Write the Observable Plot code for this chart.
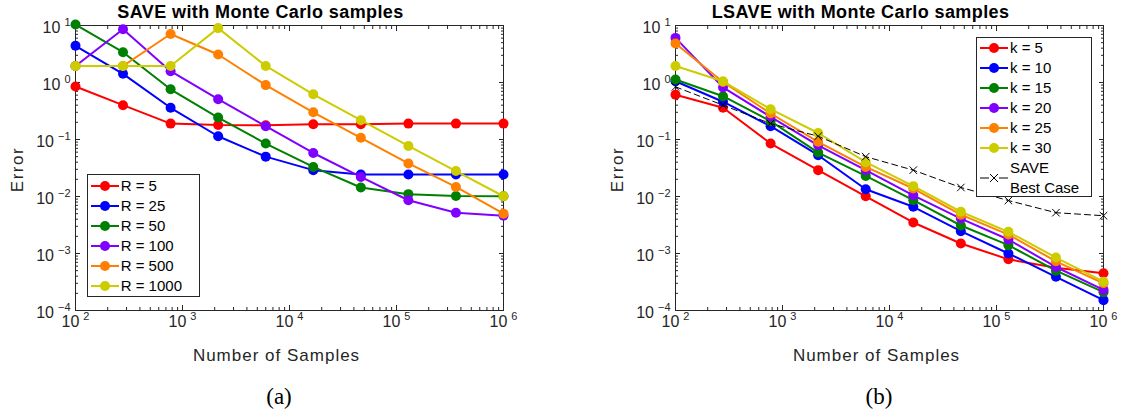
<!DOCTYPE html>
<html>
<head>
<meta charset="utf-8">
<script src="https://cdn.jsdelivr.net/npm/d3@7"></script>
<script src="https://cdn.jsdelivr.net/npm/@observablehq/plot@0.6"></script>
<style>
html, body { margin: 0; padding: 0; background: #fff; }
#wrap { position: relative; width: 1124px; height: 418px; overflow: hidden; font-family: "Liberation Sans", Arial, sans-serif; }
.panel { position: absolute; top: 0; width: 562px; }
.legend { position: absolute; box-sizing: border-box; border: 1px solid #262626; background: #fff; }
.row { position: absolute; display: flex; align-items: center; height: 20px; font-size: 15px; color: #000; white-space: nowrap; }
.row span { margin-left: 2px; line-height: 20px; }
.caption { position: absolute; font-family: "Liberation Serif", "DejaVu Serif", serif; font-size: 23px; line-height: 23px; color: #000; transform: translateX(-50%); }
</style>
</head>
<body>
<div id="wrap"></div>
<script>
// ---------------- data ----------------
const N = [100, 278, 774, 2154, 5995, 16681, 46416, 129155, 359381, 1000000];

const seriesA = ["R = 5", "R = 25", "R = 50", "R = 100", "R = 500", "R = 1000"];
const errR5    = [0.85, 0.40, 0.19, 0.18, 0.178, 0.185, 0.185, 0.19, 0.19, 0.19];
const errR25   = [4.4, 1.42, 0.36, 0.114, 0.050, 0.029, 0.0243, 0.0243, 0.0243, 0.0243];
const errR50   = [10.4, 3.4, 0.76, 0.243, 0.085, 0.033, 0.0144, 0.011, 0.0102, 0.0101];
const errR100  = [1.95, 8.6, 1.58, 0.51, 0.171, 0.058, 0.022, 0.0086, 0.0052, 0.0046];
const errR500  = [1.95, 1.95, 7.1, 3.1, 0.90, 0.30, 0.107, 0.038, 0.0147, 0.0050];
const errR1000 = [1.95, 1.95, 1.95, 9.0, 1.95, 0.62, 0.218, 0.077, 0.028, 0.0101];

const seriesB = ["k = 5", "k = 10", "k = 15", "k = 20", "k = 25", "k = 30"];
const errK5  = [0.61, 0.36, 0.085, 0.029, 0.0101, 0.0035, 0.0015, 0.00079, 0.00056, 0.00045];
const errK10 = [1.05, 0.46, 0.171, 0.053, 0.0134, 0.0066, 0.00246, 0.0010, 0.00039, 0.000152];
const errK15 = [1.13, 0.575, 0.21, 0.059, 0.023, 0.0086, 0.0031, 0.0014, 0.00050, 0.00021];
const errK20 = [6.06, 0.82, 0.25, 0.079, 0.029, 0.0105, 0.0041, 0.00176, 0.00058, 0.00023];
const errK25 = [4.83, 1.02, 0.286, 0.091, 0.033, 0.0138, 0.0048, 0.00215, 0.00073, 0.00030];
const errK30 = [1.95, 1.05, 0.34, 0.13, 0.040, 0.0152, 0.0054, 0.0024, 0.00085, 0.00032];

const bestName = "SAVE\nBest Case";
const saveBest = [0.84, 0.40, 0.19, 0.114, 0.050, 0.029, 0.0144, 0.0085, 0.0052, 0.0046];

const colors = ["#ff0000", "#0000ff", "#008000", "#8000ff", "#ff8000", "#cccc00"];

const titleA = "SAVE with Monte Carlo samples";
const titleB = "LSAVE with Monte Carlo samples";
const xLabel = "Number of Samples";
const yLabel = "Error";
const captionA = "(a)";
const captionB = "(b)";

const xMajor = [1e2, 1e3, 1e4, 1e5, 1e6];
const yMajor = [1e-4, 1e-3, 1e-2, 1e-1, 1, 10];
const minorMult = [2, 3, 4, 5, 6, 7, 8, 9];
const xMinor = [1e2, 1e3, 1e4, 1e5].flatMap(d => minorMult.map(m => d * m));
const yMinor = [1e-4, 1e-3, 1e-2, 1e-1, 1].flatMap(d => minorMult.map(m => d * m));

// ---------------- tables ----------------
function table(series, values) {
  return series.flatMap((s, i) => N.map((n, j) => ({series: s, n, err: values[i][j]})));
}
const rowsA = table(seriesA, [errR5, errR25, errR50, errR100, errR500, errR1000]);
const rowsB = table(seriesB, [errK5, errK10, errK15, errK20, errK25, errK30]);
const rowsBest = N.map((n, j) => ({n, err: saveBest[j]}));

const FONT = "Liberation Sans, Arial, sans-serif";
const expFmt = d => String(Math.round(Math.log10(d)));
const AX = "#262626";

function makePlot({rows, series, title, marginLeft, marginRight, best}) {
  const marks = [
    Plot.frame({stroke: AX}),
    Plot.axisX(xMinor, {anchor: "bottom", tickSize: -3, fill: "none", stroke: AX}),
    Plot.axisX(xMinor, {anchor: "top", tickSize: -3, fill: "none", stroke: AX}),
    Plot.axisX(xMajor, {anchor: "bottom", tickSize: -5, fill: "none", stroke: AX}),
    Plot.axisX(xMajor, {anchor: "top", tickSize: -5, fill: "none", stroke: AX}),
    Plot.axisY(yMinor, {anchor: "left", tickSize: -3, fill: "none", stroke: AX}),
    Plot.axisY(yMinor, {anchor: "right", tickSize: -3, fill: "none", stroke: AX}),
    Plot.axisY(yMajor, {anchor: "left", tickSize: -5, fill: "none", stroke: AX}),
    Plot.axisY(yMajor, {anchor: "right", tickSize: -5, fill: "none", stroke: AX}),
    Plot.axisX(xMajor, {anchor: "bottom", tickSize: 0, tickPadding: 5, tickFormat: expFmt, label: null, fill: AX, fontSize: 16, fontFamily: FONT}),
    Plot.axisY(yMajor, {anchor: "left", tickSize: 0, tickPadding: 5, dy: 2, tickFormat: expFmt, label: null, fill: AX, fontSize: 16, fontFamily: FONT})
  ];
  series.forEach(s => {
    const data = rows.filter(d => d.series === s);
    marks.push(Plot.line(data, {x: "n", y: "err", stroke: "series", strokeWidth: 2}));
    marks.push(Plot.dot(data, {x: "n", y: "err", fill: "series", r: 5}));
  });
  if (best) {
    marks.push(Plot.line(best, {x: "n", y: "err", stroke: "#000", strokeWidth: 1, strokeDasharray: "6,4"}));
    marks.push(Plot.dot(best, {x: "n", y: "err", symbol: "times", stroke: "#000", strokeWidth: 1, r: 3.5}));
  }
  marks.push(Plot.text([title], {text: d => d, frameAnchor: "top", textAnchor: "middle", lineAnchor: "bottom", dx: -29, dy: -8, fontSize: 18, fontWeight: "bold", fontFamily: FONT, fill: "#000"}));
  marks.push(Plot.text([xLabel], {text: d => d, frameAnchor: "bottom", textAnchor: "middle", lineAnchor: "bottom", dx: -13, dy: 50, fontSize: 17, fontFamily: FONT, fill: AX}));
  marks.push(Plot.text([yLabel], {text: d => d, frameAnchor: "left", textAnchor: "middle", lineAnchor: "middle", rotate: -90, dx: -57.5, dy: 1.5, fontSize: 17, fontFamily: FONT, fill: AX}));

  const svg = Plot.plot({
    width: 562, height: 375,
    marginLeft, marginRight, marginTop: 25, marginBottom: 65,
    x: {type: "log", domain: [1e2, 1e6]},
    y: {type: "log", domain: [1e-4, 1e1]},
    color: {domain: series, range: colors},
    style: "font-family: 'Liberation Sans', Arial, sans-serif; font-size: 16px; color: #262626; background: transparent; overflow: visible; max-width: none;",
    marks
  });
  // superscript exponents on tick labels
  const ns = "http://www.w3.org/2000/svg";
  svg.querySelectorAll("text").forEach(t => {
    const s = t.textContent;
    if (/^-?\d$/.test(s)) {
      t.textContent = "";
      const a = document.createElementNS(ns, "tspan"); a.textContent = "10";
      const b = document.createElementNS(ns, "tspan");
      b.setAttribute("dx", "4"); b.setAttribute("dy", "-6.5"); b.setAttribute("font-size", "11");
      b.textContent = s.replace("-", "\u2212");
      t.append(a, b);
    } else if (s === xLabel) {
      t.setAttribute("letter-spacing", "1");
    } else if (s === yLabel) {
      t.setAttribute("letter-spacing", "1.5");
    } else if (s === title) {
      t.setAttribute("letter-spacing", "0.4");
    }
  });
  return svg;
}

const wrap = document.getElementById("wrap");

function addPanel(left, svg) {
  const d = document.createElement("div");
  d.className = "panel";
  d.style.left = left + "px";
  d.append(svg);
  wrap.append(d);
}

addPanel(0, makePlot({rows: rowsA, series: seriesA, title: titleA, marginLeft: 75, marginRight: 59}));
addPanel(562, makePlot({rows: rowsB, series: seriesB, title: titleB, marginLeft: 113, marginRight: 21, best: rowsBest}));

// ---------------- legends ----------------
function symbol(color, kind) {
  const ns = "http://www.w3.org/2000/svg";
  const s = document.createElementNS(ns, "svg");
  s.setAttribute("width", 28); s.setAttribute("height", 20);
  const l = document.createElementNS(ns, "line");
  l.setAttribute("x1", 0); l.setAttribute("x2", 28); l.setAttribute("y1", 10); l.setAttribute("y2", 10);
  l.setAttribute("stroke", color);
  if (kind === "x") {
    l.setAttribute("stroke-width", 1); l.setAttribute("stroke-dasharray", "9,10");
    s.append(l);
    const p = document.createElementNS(ns, "path");
    p.setAttribute("d", "M10,6L18,14M10,14L18,6");
    p.setAttribute("stroke", color); p.setAttribute("stroke-width", 1);
    s.append(p);
  } else {
    l.setAttribute("stroke-width", 2);
    s.append(l);
    const c = document.createElementNS(ns, "circle");
    c.setAttribute("cx", 14); c.setAttribute("cy", 10); c.setAttribute("r", 5); c.setAttribute("fill", color);
    s.append(c);
  }
  return s;
}

function legend({left, top, width, height, items, firstCenter, symLeft}) {
  const box = document.createElement("div");
  box.className = "legend";
  Object.assign(box.style, {left: left + "px", top: top + "px", width: width + "px", height: height + "px"});
  items.forEach((it, i) => {
    const r = document.createElement("div");
    r.className = "row";
    const c = firstCenter + 20 * i + (it.extra || 0);
    r.style.left = (symLeft - 1) + "px";
    r.style.top = (c - 1 - 10) + "px";
    r.append(symbol(it.color, it.kind));
    const sp = document.createElement("span");
    if (it.lines) {
      sp.style.display = "block";
      it.lines.forEach(t => {
        const ln = document.createElement("div");
        ln.textContent = t;
        ln.style.lineHeight = "20px";
        sp.append(ln);
      });
    } else {
      sp.textContent = it.label;
    }
    r.append(sp);
    box.append(r);
  });
  wrap.append(box);
}

legend({
  left: 86.7, top: 174.3, width: 113.3, height: 123, firstCenter: 11.7, symLeft: 4,
  items: seriesA.map((s, i) => ({label: s, color: colors[i]}))
});
legend({
  left: 975.7, top: 37.3, width: 116, height: 160, firstCenter: 11, symLeft: 4.3,
  items: seriesB.map((s, i) => ({label: s, color: colors[i]}))
    .concat([{color: "#000", kind: "x", lines: bestName.split("\n"), extra: 9.4}])
});

// ---------------- captions ----------------
[[captionA, 279], [captionB, 879]].forEach(([t, x]) => {
  const c = document.createElement("div");
  c.className = "caption";
  c.textContent = t;
  c.style.left = x + "px";
  c.style.top = "385px";
  wrap.append(c);
});
</script>
</body>
</html>
